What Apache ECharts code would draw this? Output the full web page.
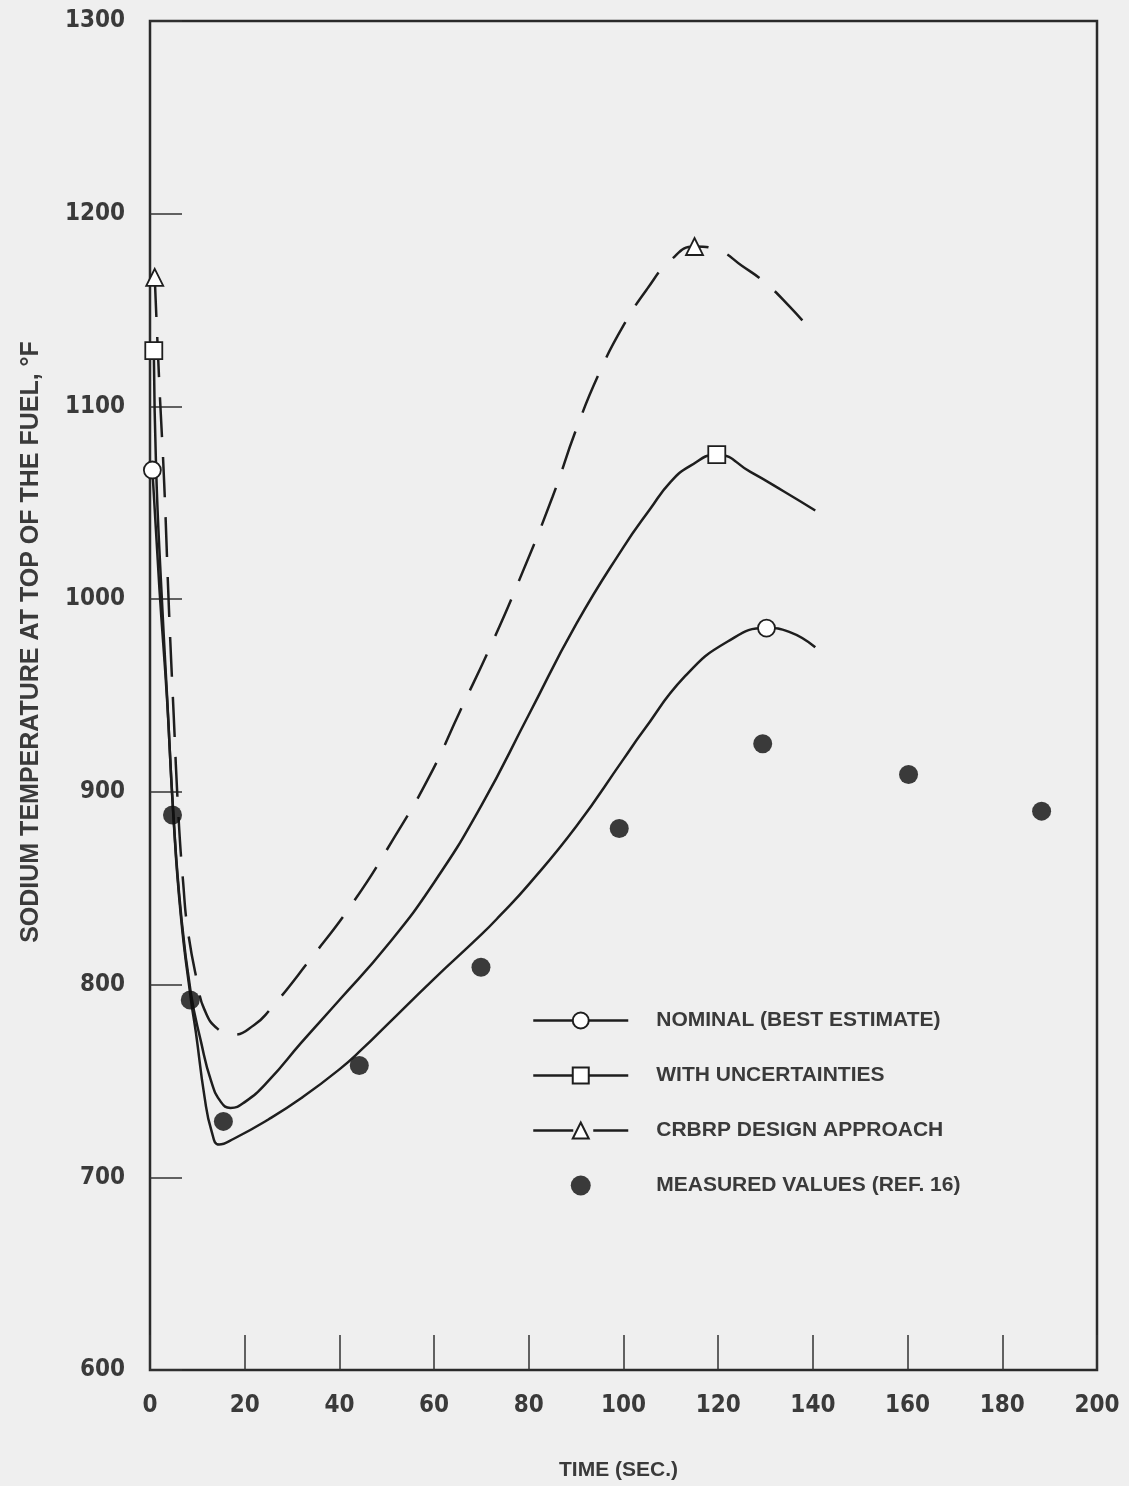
<!DOCTYPE html>
<html><head><meta charset="utf-8">
<script src="https://cdn.jsdelivr.net/npm/echarts@6/dist/echarts.min.js"></script>
<style>html,body{margin:0;padding:0;background:#efefef}#c{width:1129px;height:1486px}</style>
</head><body><div id="c"></div>
<script>
// ---- data ----
const xTickValues = [0, 20, 40, 60, 80, 100, 120, 140, 160, 180, 200];
const yTickValues = [600, 700, 800, 900, 1000, 1100, 1200, 1300];

const seriesNames = ['NOMINAL (BEST ESTIMATE)', 'WITH UNCERTAINTIES', 'CRBRP DESIGN APPROACH', 'MEASURED VALUES (REF. 16)'];
const xTitle = 'TIME (SEC.)';
const yTitle = 'SODIUM TEMPERATURE AT TOP OF THE FUEL, °F';

const nominalTime = [0.5, 2, 3.6, 4.9, 6.5, 8.6, 9.7, 11.5, 13, 14.6, 17.7, 25, 31.9, 40, 45, 50, 60, 70, 74, 80, 90, 100, 104, 113, 122, 130.2, 135, 140.5];
const nominalTemp = [1067, 1005, 948, 889, 836, 793, 775, 742, 724, 717, 720, 730, 741, 756, 767, 779, 803, 826, 836, 852, 882, 917, 931, 960, 978, 985, 983, 975];
const nominalMarkers = [0, 25];

const uncTime = [0.8, 1.3, 2.3, 3.6, 4.9, 6.5, 8.6, 10.8, 12.9, 15, 17, 20, 25, 32, 40, 50, 60, 70, 80, 90, 100, 105.7, 110, 114, 119.7, 126.8, 133.8, 140.5];
const uncTemp = [1129, 1067, 1010, 950, 890, 838, 796, 770, 750, 739, 736, 739, 750, 770, 792, 820, 853, 893, 940, 987, 1027, 1047, 1061, 1069, 1075, 1066, 1056, 1046];
const uncMarkers = [0, 24];

const designTime = [1, 2, 3, 4, 5, 6, 7, 8, 10, 11.5, 14.3, 17.7, 22, 25, 33.5, 43, 51.5, 59, 65.5, 72, 78, 85, 90, 95, 100, 105, 110, 115, 120, 125, 130, 135, 140.5];
const designTemp = [1167, 1110, 1060, 995, 940, 888, 853, 828, 801, 787, 777, 774, 779, 786, 812, 843, 876, 908, 942, 976, 1010, 1053, 1088, 1118, 1142, 1161, 1176, 1183, 1181, 1173, 1164, 1152, 1137];
const designMarkers = [0, 27];

const measuredTime = [4.75, 8.5, 15.5, 44.2, 69.9, 99.1, 129.4, 160.2, 188.3];
const measuredTemp = [888, 792, 729, 758, 809, 881, 925, 909, 890];

// ---- build chart ----
const INK = '#1e1e1e';
const TXT = '#3a3a3a';
const narrow = "'Liberation Sans Narrow','DejaVu Sans Condensed','Liberation Sans',sans-serif";
const wide = "'Liberation Sans','Arial',sans-serif";

function lineData(ts, vs, marks) {
  return ts.map((t, i) => ({ value: [t, vs[i]], symbol: marks.includes(i) ? undefined : 'none' }));
}

const chart = echarts.init(document.getElementById('c'), null, { renderer: 'canvas' });
chart.setOption({
  backgroundColor: '#efefef',
  animation: false,
  grid: { left: 150, right: 32, top: 21, bottom: 115, show: true, borderColor: '#2a2a2a', borderWidth: 2.5, backgroundColor: 'transparent' },
  xAxis: {
    type: 'value', min: xTickValues[0], max: xTickValues[xTickValues.length - 1], interval: 20,
    name: xTitle, nameLocation: 'middle', nameGap: 90,
    nameTextStyle: { fontFamily: wide, fontWeight: 'bold', fontSize: 21, color: TXT, padding: [0, 10, 0, 0] },
    axisLine: { show: false },
    axisTick: { show: true, inside: true, length: 35, lineStyle: { color: '#333', width: 1.5 } },
    axisLabel: { margin: 24, fontFamily: narrow, fontWeight: 'bold', fontSize: 24, color: TXT },
    splitLine: { show: false }
  },
  yAxis: {
    type: 'value', min: yTickValues[0], max: yTickValues[yTickValues.length - 1], interval: 100,
    axisLine: { show: false },
    axisTick: { show: true, inside: true, length: 32, lineStyle: { color: '#333', width: 1.5 } },
    axisLabel: { margin: 25, fontFamily: narrow, fontWeight: 'bold', fontSize: 24, color: TXT, formatter: v => String(v) },
    splitLine: { show: false }
  },
  graphic: [{
    type: 'text', x: 31, y: 642, rotation: Math.PI / 2,
    style: { text: yTitle, fill: TXT, font: "bold 25px 'Liberation Sans', Arial, sans-serif", align: 'center', verticalAlign: 'middle' }
  }],
  legend: {
    orient: 'vertical', left: 527, top: 1005, itemWidth: 95, itemHeight: 20, itemGap: 34,
    lineStyle: { width: 2.5 },
    textStyle: { fontFamily: wide, fontWeight: 'bold', fontSize: 21, color: TXT, padding: [0, 0, 0, 23] },
    data: seriesNames
  },
  series: [
    {
      name: seriesNames[0], type: 'line', smooth: 0.5, showAllSymbol: true,
      symbol: 'circle', symbolSize: 17,
      itemStyle: { color: '#fff', borderColor: INK, borderWidth: 1.8 },
      lineStyle: { color: INK, width: 2.5 },
      data: lineData(nominalTime, nominalTemp, nominalMarkers), z: 3
    },
    {
      name: seriesNames[1], type: 'line', smooth: 0.5, showAllSymbol: true,
      symbol: 'rect', symbolSize: 17,
      itemStyle: { color: '#fff', borderColor: INK, borderWidth: 1.8 },
      lineStyle: { color: INK, width: 2.5 },
      data: lineData(uncTime, uncTemp, uncMarkers), z: 3
    },
    {
      name: seriesNames[2], type: 'line', smooth: 0.5, showAllSymbol: true,
      symbol: 'triangle', symbolSize: 17,
      itemStyle: { color: '#fff', borderColor: INK, borderWidth: 1.8 },
      lineStyle: { color: INK, width: 2.5, type: [40, 20] },
      data: lineData(designTime, designTemp, designMarkers), z: 3
    },
    {
      name: seriesNames[3], type: 'scatter', symbol: 'circle', symbolSize: 19,
      itemStyle: { color: '#0d0d0d' },
      data: measuredTime.map((t, i) => [t, measuredTemp[i]]), z: 4
    }
  ]
});
</script>
</body></html>
